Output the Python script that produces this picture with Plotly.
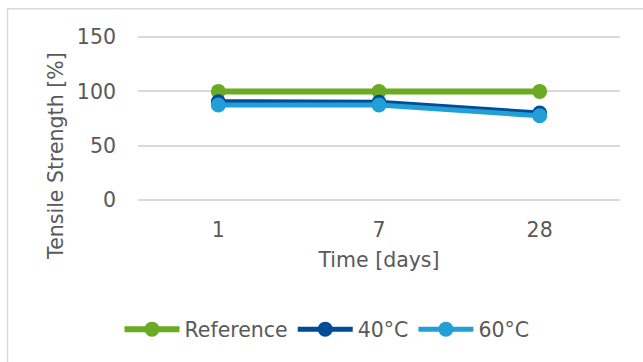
import plotly.graph_objects as go

categories = ["1", "7", "28"]
reference = [100, 100, 100]
c40 = [90.5, 90, 80]
c60 = [87.5, 87.5, 77.5]

W, H = 643, 362
L, R, T, B = 138, 23, 33.74, 158.74
FONT = "DejaVu Sans, Liberation Sans, Arial"
FS = 20.5

fig = go.Figure()
series = [("Reference", reference, "#6AAB23", 6), ("40°C", c40, "#004C97", 5), ("60°C", c60, "#22A0D6", 5)]
for name, vals, col, lw in series:
    fig.add_trace(go.Scatter(x=[0, 1, 2], y=vals, name=name, mode="lines+markers",
                             line=dict(color=col, width=lw),
                             marker=dict(color=col, size=15)))

pw = W - L - R
ph = H - T - B
def px(x): return (x - L) / pw
def py(y): return (H - B - y) / ph

fig.add_shape(type="rect", xref="paper", yref="paper",
              x0=px(7.5), x1=px(660), y0=py(8.5), y1=py(380),
              line=dict(color="#D9D9D9", width=1.5), fillcolor="rgba(0,0,0,0)", layer="below")

fig.add_annotation(text="Tensile Strength [%]", xref="paper", yref="paper",
                   x=px(56), y=py(156), xanchor="center", yanchor="middle",
                   textangle=-90, showarrow=False, font=dict(family=FONT, size=FS, color="#595959"))

fig.update_layout(
    width=W, height=H,
    margin=dict(l=L, r=R, t=T, b=B, autoexpand=False),
    paper_bgcolor="white", plot_bgcolor="white",
    font=dict(family=FONT, size=FS, color="#595959"),
    showlegend=True,
    legend=dict(orientation="h", x=px(327), xanchor="center", y=py(330), yanchor="middle",
                font=dict(family=FONT, size=FS, color="#595959"), itemwidth=55, tracegroupgap=0),
    xaxis=dict(tickmode="array", tickvals=[0, 1, 2], ticktext=categories, range=[-0.5, 2.5],
               showgrid=False, zeroline=False, showline=False, ticks="outside", ticklen=8,
               tickcolor="rgba(0,0,0,0)",
               title=dict(text="Time [days]", standoff=12, font=dict(family=FONT, size=FS))),
    yaxis=dict(range=[-3, 153], tickvals=[0, 50, 100, 150], showgrid=True, gridcolor="#D9D9D9",
               gridwidth=1.5, zeroline=False, showline=False, ticks="", ticklabelstandoff=21),
)
fig.write_html("out.html", config={"displayModeBar": False},
               post_script="document.body.style.margin='0';document.body.style.overflow='hidden';")
